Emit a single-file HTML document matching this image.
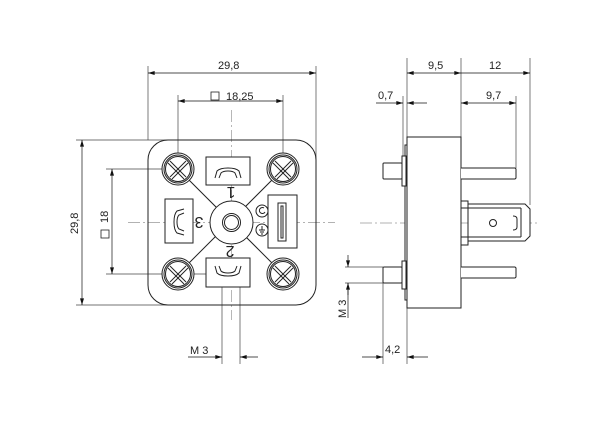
<!DOCTYPE html>
<html><head><meta charset="utf-8"><style>
html,body{margin:0;padding:0;background:#fff;}
svg{display:block;}
text{font-family:"Liberation Sans",sans-serif;font-size:11px;fill:#222;}
</style></head><body>
<svg width="600" height="424" viewBox="0 0 600 424" xmlns="http://www.w3.org/2000/svg">
<defs>
<marker id="a" viewBox="0 0 10 6" refX="10" refY="3" markerWidth="10" markerHeight="4" orient="auto-start-reverse" markerUnits="userSpaceOnUse"><path d="M0,0 L10,3 L0,6z" fill="#111"/></marker>
</defs>
<g fill="none" stroke="#444" stroke-width="0.7">
<line x1="128" y1="222.5" x2="335" y2="222.5" stroke="#999" stroke-dasharray="12,3,2,3"/>
<line x1="231.5" y1="110" x2="231.5" y2="320" stroke="#999" stroke-dasharray="12,3,2,3"/>
<line x1="148" y1="66" x2="148" y2="140"/>
<line x1="316" y1="66" x2="316" y2="222"/>
<line x1="178" y1="95" x2="178" y2="169"/>
<line x1="283" y1="95" x2="283" y2="169"/>
<line x1="76" y1="140" x2="230" y2="140"/>
<line x1="76" y1="305" x2="230" y2="305"/>
<line x1="106" y1="169" x2="178" y2="169"/>
<line x1="106" y1="274" x2="248" y2="274"/>
<line x1="222" y1="262" x2="222" y2="364"/>
<line x1="240" y1="262" x2="240" y2="364"/>
<line x1="148" y1="73" x2="316" y2="73" stroke="#111" marker-start="url(#a)" marker-end="url(#a)"/>
<line x1="178" y1="101" x2="283" y2="101" stroke="#111" marker-start="url(#a)" marker-end="url(#a)"/>
<line x1="82" y1="140" x2="82" y2="305" stroke="#111" marker-start="url(#a)" marker-end="url(#a)"/>
<line x1="112" y1="169" x2="112" y2="274" stroke="#111" marker-start="url(#a)" marker-end="url(#a)"/>
<line x1="188" y1="357" x2="222" y2="357" stroke="#111" marker-end="url(#a)"/>
<line x1="258" y1="357" x2="240" y2="357" stroke="#111" marker-end="url(#a)"/>
</g>
<g fill="none" stroke="#222" stroke-width="1">
<rect x="148" y="140" width="168" height="165" rx="20"/>
<line x1="178" y1="169" x2="283" y2="274"/>
<line x1="283" y1="169" x2="178" y2="274"/>
<path d="M206,157 h44 v28 h-44 z" fill="#fff"/>
<path d="M165,199 h28 v44 h-28 z" fill="#fff"/>
<path d="M268,195 h29 v53 h-29 z" fill="#fff"/>
<path d="M206,258 h44 v29 h-44 z" fill="#fff"/>
<circle cx="231.5" cy="222.5" r="21.5" fill="#fff"/>
<circle cx="231.5" cy="222.5" r="9"/>
<circle cx="231.5" cy="222.5" r="7"/>
<circle cx="262" cy="211" r="6" fill="#fff"/>
<circle cx="262" cy="230" r="6" fill="#fff"/>
<path d="M259,230 h6 M262,226 v4 M260,232 h4 M261,234 h2"/>
<path d="M264,208 a3,3 0 1 0 1,4"/>
<path d="M215,178 l2,-7 q3,-3 11,-3 q8,0 11,3 l2,7 M219,178 l2,-5 q2,-2 7,-2 q5,0 7,2 l2,5"/>
<path d="M215,266 l2,7 q3,3 11,3 q8,0 11,-3 l2,-7 M219,266 l2,5 q2,2 7,2 q5,0 7,-2 l2,-5"/>
<path d="M184,209 l-7,2 q-3,3 -3,11 q0,8 3,11 l7,2 M184,213 l-5,2 q-2,2 -2,7 q0,5 2,7 l5,2"/>
<rect x="278" y="203" width="8" height="38"/>
<rect x="281" y="206" width="2" height="32"/>
<g id="s">
<circle cx="178" cy="169" r="16" fill="#fff"/>
<circle cx="178" cy="169" r="14"/>
<circle cx="178" cy="169" r="12.5"/>
<line x1="170" y1="161" x2="186" y2="177"/><line x1="168" y1="163" x2="184" y2="179"/>
<line x1="186" y1="161" x2="170" y2="177"/><line x1="188" y1="163" x2="172" y2="179"/>
</g>
<use href="#s" x="105"/><use href="#s" y="105"/><use href="#s" x="105" y="105"/>
</g>
<g font-size="16" text-anchor="middle">
<text x="231" y="199" transform="rotate(180 231 193)" style="font-size:16px">1</text>
<text x="230" y="258" transform="rotate(180 230 252)" style="font-size:16px">2</text>
<text x="199" y="229" transform="rotate(180 199 223)" style="font-size:16px">3</text>
</g>
<text x="218" y="69">29,8</text>
<rect x="211" y="92" width="8" height="8" fill="none" stroke="#222" stroke-width="0.8"/>
<text x="226" y="100">18,25</text>
<text transform="translate(78 234) rotate(-90)">29,8</text>
<rect x="101" y="230" width="8" height="8" fill="none" stroke="#222" stroke-width="0.8"/>
<text transform="translate(108 223) rotate(-90)">18</text>
<text x="190" y="354">M 3</text>
<g fill="none" stroke="#444" stroke-width="0.7">
<line x1="360" y1="223" x2="538" y2="223" stroke="#999" stroke-dasharray="12,3,2,3"/>
<line x1="407" y1="58" x2="407" y2="137"/>
<line x1="461" y1="58" x2="461" y2="137"/>
<line x1="530" y1="58" x2="530" y2="205"/>
<line x1="516" y1="96" x2="516" y2="168"/>
<line x1="403" y1="96" x2="403" y2="156"/>
<line x1="345" y1="267" x2="383" y2="267"/>
<line x1="345" y1="283" x2="383" y2="283"/>
<line x1="383" y1="283" x2="383" y2="364"/>
<line x1="407" y1="308" x2="407" y2="364"/>
<line x1="407" y1="73" x2="461" y2="73" stroke="#111" marker-start="url(#a)" marker-end="url(#a)"/>
<line x1="461" y1="73" x2="530" y2="73" stroke="#111" marker-end="url(#a)"/>
<line x1="461" y1="103" x2="516" y2="103" stroke="#111" marker-start="url(#a)" marker-end="url(#a)"/>
<line x1="376" y1="103" x2="403" y2="103" stroke="#111" marker-end="url(#a)"/>
<line x1="427" y1="103" x2="407" y2="103" stroke="#111" marker-end="url(#a)"/>
<line x1="348" y1="255" x2="348" y2="267" stroke="#111" marker-end="url(#a)"/>
<line x1="348" y1="295" x2="348" y2="283" stroke="#111" marker-end="url(#a)"/>
<line x1="348" y1="283" x2="348" y2="318" stroke="#111"/>
<line x1="362" y1="357" x2="383" y2="357" stroke="#111" marker-end="url(#a)"/>
<line x1="428" y1="357" x2="407" y2="357" stroke="#111" marker-end="url(#a)"/>
</g>
<g fill="#fff" stroke="#222" stroke-width="1">
<rect x="407" y="137" width="54" height="171"/>
<rect x="405" y="145" width="2" height="155"/>
<rect x="402" y="156" width="4" height="30"/>
<rect x="402" y="261" width="4" height="28"/>
<rect x="383" y="163" width="19" height="16" rx="1"/>
<rect x="383" y="267" width="19" height="16" rx="1"/>
<path d="M461,168 h54 l1,1 v9 l-1,1 h-54"/>
<path d="M461,267 h54 l1,1 v9 l-1,1 h-54"/>
<rect x="461" y="201" width="7" height="7"/>
<rect x="461" y="237" width="7" height="8"/>
<path d="M468,204 h57 l5,5 v27 l-5,5 h-57 z"/>
<path d="M468,208 h53 M468,237 h53 M521,208 v29"/>
<path d="M513,216 q4,0 4,3 v8 q0,3 -4,3"/>
<circle cx="493" cy="223" r="3.5"/>
</g>
<text x="428" y="69">9,5</text>
<text x="489" y="69">12</text>
<text x="378" y="99">0,7</text>
<text x="486" y="99">9,7</text>
<text x="385" y="353">4,2</text>
<text transform="translate(346 318) rotate(-90)">M 3</text>
</svg>
</body></html>
